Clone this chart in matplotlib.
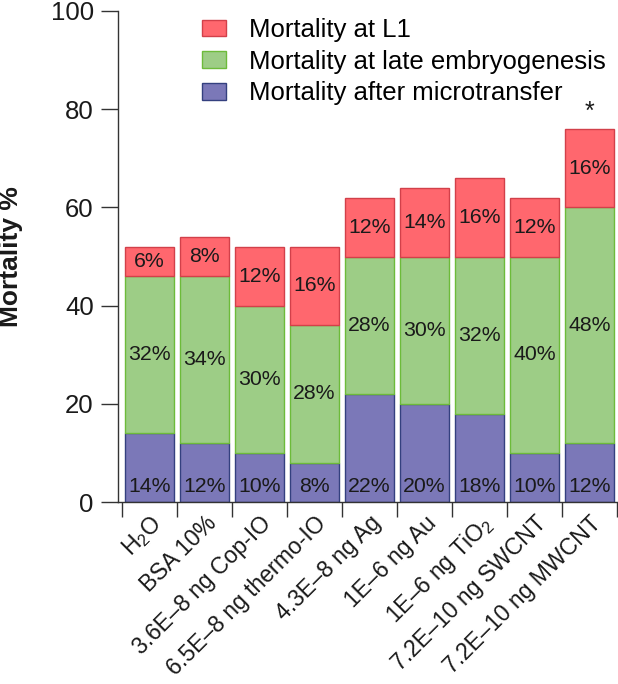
import matplotlib
matplotlib.use("Agg")
import matplotlib.pyplot as plt
import matplotlib.patches as mpatches
import numpy as np

plt.rcParams['font.family'] = ['Liberation Sans', 'DejaVu Sans']
plt.rcParams['mathtext.fontset'] = 'custom'
plt.rcParams['mathtext.rm'] = 'Liberation Sans'

categories = ['H$_\\mathregular{2}$O', 'BSA 10%', '3.6E\u20138 ng Cop-IO', '6.5E\u20138 ng thermo-IO',
              '4.3E\u20138 ng Ag', '1E\u20136 ng Au', '1E\u20136 ng TiO$_\\mathregular{2}$',
              '7.2E\u201310 ng SWCNT', '7.2E\u201310 ng MWCNT']
microtransfer = [14, 12, 10, 8, 22, 20, 18, 10, 12]
embryogenesis = [32, 34, 30, 28, 28, 30, 32, 40, 48]
l1 = [6, 8, 12, 16, 12, 14, 16, 12, 16]
significant = [False, False, False, False, False, False, False, False, True]

c_red, e_red = '#FF676E', '#D2404A'
c_green, e_green = '#9DCD86', '#6DBB3A'
c_blue, e_blue = '#7B78B8', '#34407F'

fig = plt.figure(figsize=(6.18, 6.84), dpi=100)
ax = fig.add_axes([118/618, 1-502/684, 499/618, 491/684])

x = np.arange(len(categories))
w = 0.875
b1 = np.array(microtransfer)
b2 = b1 + np.array(embryogenesis)
ax.bar(x, microtransfer, w, color=c_blue, edgecolor=e_blue, linewidth=1.0, zorder=2)
ax.bar(x, embryogenesis, w, bottom=b1, color=c_green, edgecolor=e_green, linewidth=1.0, zorder=2)
ax.bar(x, l1, w, bottom=b2, color=c_red, edgecolor=e_red, linewidth=1.0, zorder=2)

fs_in = 15.3
for i in range(len(x)):
    ax.text(x[i], 3.2, f'{microtransfer[i]}%', ha='center', va='center', fontsize=fs_in, color='#1a1a1a', zorder=3)
    ax.text(x[i], b1[i] + embryogenesis[i]/2, f'{embryogenesis[i]}%', ha='center', va='center', fontsize=fs_in, color='#1a1a1a', zorder=3)
    ax.text(x[i], b2[i] + l1[i]/2, f'{l1[i]}%', ha='center', va='center', fontsize=fs_in, color='#1a1a1a', zorder=3)
    if significant[i]:
        ax.text(x[i], b2[i] + l1[i] + 1.0, '*', ha='center', va='bottom', fontsize=18, color='#1a1a1a')

ax.set_xlim(-0.573, 8.5)
ax.set_ylim(0, 100)
ax.set_yticks([0, 20, 40, 60, 80, 100])
ax.tick_params(axis='y', length=12.5, width=1.0, pad=5, labelsize=18.5, colors='#333333', labelcolor='#1a1a1a')
ax.set_xticks(x)
ax.set_xticklabels(categories, rotation=45, ha='right', rotation_mode='anchor', fontsize=16.6, color='#1a1a1a')
ax.tick_params(axis='x', which='major', length=0, pad=7)
ax.set_xticks(np.arange(-0.5, 9, 1.0), minor=True)
ax.tick_params(axis='x', which='minor', length=11, width=1.0, colors='#333333')

for s in ['top', 'right']:
    ax.spines[s].set_visible(False)
for s in ['left', 'bottom']:
    ax.spines[s].set_linewidth(1.0)
    ax.spines[s].set_color('#333333')

ax.set_ylabel('Mortality %', fontsize=19, fontweight='bold', color='#1a1a1a')
ax.yaxis.set_label_coords(-0.19, 0.5)

handles = [mpatches.Patch(facecolor=c_red, edgecolor=e_red, label='Mortality at L1'),
           mpatches.Patch(facecolor=c_green, edgecolor=e_green, label='Mortality at late embryogenesis'),
           mpatches.Patch(facecolor=c_blue, edgecolor=e_blue, label='Mortality after microtransfer')]
fig.legend(handles=handles, loc='upper left', bbox_to_anchor=(202/618, 1-18/684), frameon=False,
           fontsize=18.5, handlelength=0.93, handleheight=0.62, handletextpad=0.9, labelspacing=0.3,
           borderaxespad=0, borderpad=0)

fig.savefig('out.png', dpi=100)
